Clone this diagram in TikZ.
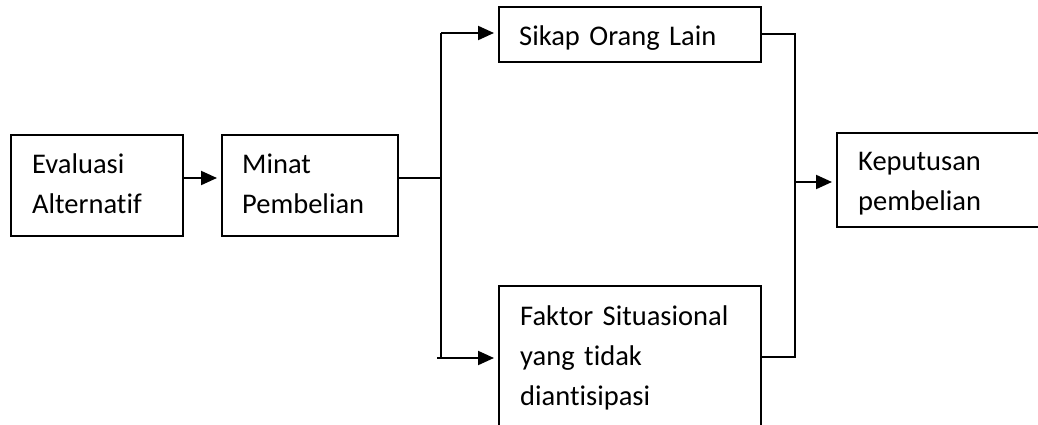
\documentclass[tikz,border=0pt]{standalone}
\usepackage{fontspec}
\setmainfont{Carlito}[Ligatures=NoCommon]
\usetikzlibrary{arrows.meta}
\tikzset{
  x=1pt, y=-1pt,
  box/.style={draw, line width=2pt, rectangle, inner sep=0pt, anchor=north west},
  txt/.style={anchor=base west, inner sep=0pt, text width=250pt, align=left, font=\fontsize{28.5}{40}\selectfont},
  conn/.style={line width=2pt},
  arr/.style={line width=2pt, -{Triangle[length=16pt,width=14pt]}, shorten >=4pt}
}
\begin{document}
\begin{tikzpicture}
\useasboundingbox (0,0) rectangle (1038,425);
\clip (0,0) rectangle (1038,425);
% boxes
\node[box, minimum width=172pt, minimum height=101pt] (ev) at (10,134) {};
\node[box, minimum width=176pt, minimum height=101pt] (mi) at (221,134) {};
\node[box, minimum width=262pt, minimum height=55pt] (si) at (498,6) {};
\node[box, minimum width=262pt, minimum height=175pt] (fa) at (498,285) {};
\node[box, minimum width=264pt, minimum height=94pt] (ke) at (836,132) {};
% texts
\node[txt] (tev) at (32,173) {Evaluasi\\Alternatif};
\node[txt] (tmi) at (242,173) {Minat\\Pembelian};
\node[txt] (tsi) at (519,46) {Sikap Orang Lain};
\node[txt] (tfa) at (520,325) {Faktor Situasional\\yang tidak\\diantisipasi};
\node[txt] (tke) at (858,170) {Keputusan\\pembelian};
% junction coordinates
\coordinate (ea) at (182,178);
\coordinate (j1) at (441,178);
\coordinate (jt) at (441,33);
\coordinate (jb) at (441,358);
\coordinate (jb0) at (437,358);
\coordinate (r1) at (795,34);
\coordinate (r2) at (795,357);
\coordinate (rm) at (795,182);
% connectors
\draw[arr] (ea) -- (mi.west |- ea);
\draw[conn] (mi.east |- j1) -- (j1);
\draw[conn] (jt) -- (jb);
\draw[arr] (jt) -- (si.west |- jt);
\draw[arr] (jb0) -- (fa.west |- jb0);
\draw[conn] (si.east |- r1) -- (r1) -- (r2) -- (fa.east |- r2);
\draw[arr] (rm) -- (ke.west |- rm);
\end{tikzpicture}
\end{document}
